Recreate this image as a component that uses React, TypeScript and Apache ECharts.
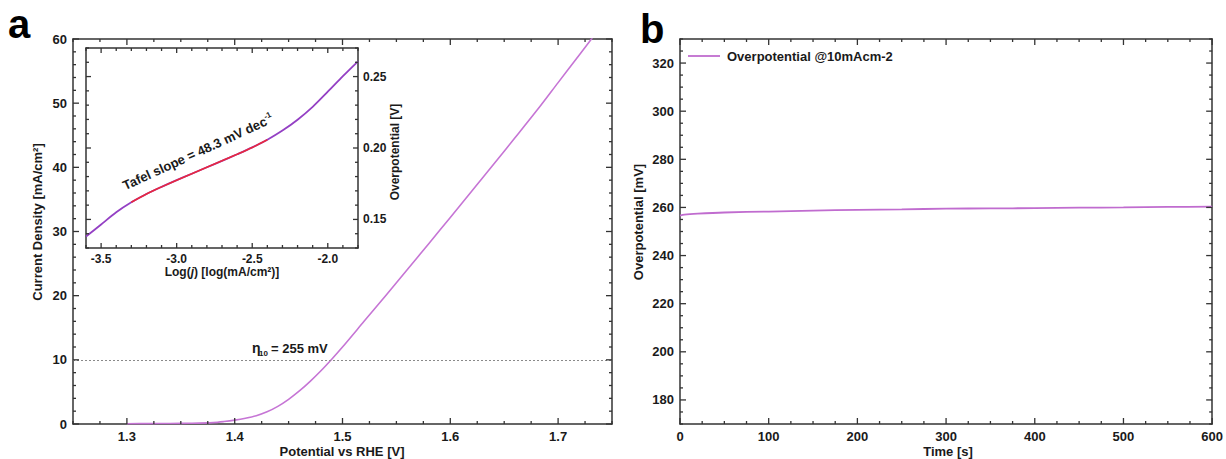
import React, { useEffect, useRef } from "react";
import * as echarts from "echarts";

// Panel a: polarization curve
const polE = [1.30, 1.32, 1.34, 1.36, 1.38, 1.39, 1.40, 1.41, 1.42, 1.43, 1.44, 1.45, 1.46, 1.47, 1.48, 1.49, 1.50, 1.52, 1.54, 1.56, 1.58, 1.60, 1.62, 1.64, 1.66, 1.68, 1.70, 1.72, 1.74];
const polJ = [0.05, 0.06, 0.08, 0.12, 0.22, 0.38, 0.6, 0.9, 1.3, 1.9, 2.75, 3.85, 5.15, 6.65, 8.3, 10.1, 12.0, 16.0, 20.0, 24.05, 28.1, 32.2, 36.3, 40.45, 44.6, 48.8, 53.2, 57.6, 62.0];
const refJ = 10;

// Inset: Tafel plot
const tafelLog = [-3.6, -3.5, -3.4, -3.3, -3.2, -3.1, -3.0, -2.9, -2.8, -2.7, -2.6, -2.5, -2.4, -2.3, -2.2, -2.1, -2.0, -1.9, -1.8];
const tafelV = [0.138, 0.1465, 0.155, 0.162, 0.1678, 0.1728, 0.1775, 0.182, 0.1865, 0.191, 0.1956, 0.2004, 0.2058, 0.2122, 0.2198, 0.2288, 0.2394, 0.2503, 0.2607];
const fitLog = [-3.3, -3.2, -3.1, -3.0, -2.9, -2.8, -2.7, -2.6, -2.5, -2.4];
const fitV = [0.162, 0.1678, 0.1728, 0.1775, 0.182, 0.1865, 0.191, 0.1956, 0.2004, 0.2058];

// Panel b: chronopotentiometry
const timeS = [0, 5, 20, 50, 100, 150, 200, 250, 300, 350, 400, 450, 500, 550, 600];
const overpotMV = [256.6, 257.0, 257.4, 257.9, 258.3, 258.7, 259.0, 259.2, 259.5, 259.6, 259.7, 259.9, 260.0, 260.2, 260.3];

// Axis ranges and tick spacing
const aX = { min: 1.25, max: 1.75, step: 0.025, major: 0.1 };
const aY = { min: 0, max: 60, step: 2, major: 10 };
const iX = { min: -3.6, max: -1.8, step: 0.1, major: 0.5 };
const iY = { min: 0.13, max: 0.27, step: 0.01, major: 0.05 };
const bX = { min: 0, max: 600, step: 25, major: 100 };
const bY = { min: 170, max: 330, step: 5, major: 20 };

const FONT = '"Liberation Sans", Arial, Helvetica, sans-serif';
const AX = "#333";
const TXT = "#1a1a1a";

const zip = (a: number[], b: number[]) => a.map((v, i) => [v, b[i]]);
const isMult = (v: number, m: number) => Math.abs(v / m - Math.round(v / m)) < 1e-6;

function tickValues(r: any) {
  const n = Math.round((r.max - r.min) / r.step);
  const out: number[][] = [];
  for (let i = 0; i <= n; i++) {
    const v = +(r.min + i * r.step).toFixed(6);
    out.push([v, isMult(v, r.major) ? 1 : 0]);
  }
  return out;
}

// Inward ticks on one side of a grid, placed through the axis scales
function tickSeries(xi: number, yi: number, side: string, r: any, other: number, lenMajor: number, lenMinor: number) {
  return {
    type: "custom",
    xAxisIndex: xi,
    yAxisIndex: yi,
    silent: true,
    z: 20,
    clip: false,
    data: tickValues(r),
    renderItem: (params: any, api: any) => {
      const v = api.value(0);
      const len = api.value(1) ? lenMajor : lenMinor;
      let p: number[];
      let q: number[];
      if (side === "bottom" || side === "top") {
        p = api.coord([v, other]);
        q = [p[0], p[1] + (side === "bottom" ? -len : len)];
      } else {
        p = api.coord([other, v]);
        q = [p[0] + (side === "left" ? len : -len), p[1]];
      }
      return {
        type: "line",
        shape: { x1: p[0], y1: p[1], x2: q[0], y2: q[1] },
        style: { stroke: AX, lineWidth: 1.3 },
      };
    },
  };
}

function axis(o: any) {
  return {
    type: "value",
    gridIndex: o.grid,
    position: o.position,
    min: o.min,
    max: o.max,
    interval: o.interval,
    axisLine: { show: true, onZero: false, lineStyle: { color: AX, width: 1.5 } },
    axisTick: { show: false },
    minorTick: { show: false },
    splitLine: { show: false },
    minorSplitLine: { show: false },
    axisLabel: {
      show: !!o.fmt,
      formatter: o.fmt,
      fontFamily: FONT,
      fontWeight: "bold",
      fontSize: o.fs ?? 13,
      color: TXT,
      margin: o.margin ?? 6,
      showMinLabel: true,
      showMaxLabel: true,
    },
  };
}

const fmtA = (v: number) => (isMult(v, 0.1) ? v.toFixed(1) : "");
const fmtInsetX = (v: number) => (isMult(v, 0.5) ? v.toFixed(1) : "");
const fmtInsetY = (v: number) => (isMult(v, 0.05) ? v.toFixed(2) : "");
const fmtBY = (v: number) => (isMult(v, 20) ? String(Math.round(v)) : "");
const fmtInt = (v: number) => String(Math.round(v));

const txt = (x: number, y: number, text: string, opts: any = {}) => ({
  type: "text",
  x,
  y,
  rotation: opts.rotation || 0,
  z: 100,
  style: {
    text,
    fill: opts.fill || TXT,
    font: opts.font || `bold 13px ${FONT}`,
    textAlign: opts.align || "center",
    textVerticalAlign: opts.valign || "middle",
    rich: opts.rich,
  },
});

export default function App() {
  const ref = useRef<HTMLDivElement>(null);
  useEffect(() => {
    if (!ref.current) return;
    const chart = echarts.init(ref.current, undefined, { renderer: "svg" });
    const option: any = {
      animation: false,
      backgroundColor: "#fff",
      textStyle: { fontFamily: FONT },
      grid: [
        { left: 73, top: 39, width: 539, height: 385, containLabel: false },
        { left: 86, top: 48, width: 272, height: 200, containLabel: false, show: true, backgroundColor: "#fff", borderWidth: 0, z: 5 },
        { left: 680, top: 39, width: 536, height: 385, containLabel: false },
      ],
      xAxis: [
        axis({ grid: 0, position: "bottom", min: aX.min, max: aX.max, interval: 0.05, fmt: fmtA }),
        axis({ grid: 0, position: "top", min: aX.min, max: aX.max, interval: 0.05 }),
        { ...axis({ grid: 1, position: "bottom", min: iX.min, max: iX.max, interval: 0.1, fmt: fmtInsetX, fs: 12, margin: 5 }), z: 6 },
        { ...axis({ grid: 1, position: "top", min: iX.min, max: iX.max, interval: 0.1 }), z: 6 },
        axis({ grid: 2, position: "bottom", min: bX.min, max: bX.max, interval: 100, fmt: fmtInt }),
        axis({ grid: 2, position: "top", min: bX.min, max: bX.max, interval: 100 }),
      ],
      yAxis: [
        axis({ grid: 0, position: "left", min: aY.min, max: aY.max, interval: 10, fmt: fmtInt }),
        axis({ grid: 0, position: "right", min: aY.min, max: aY.max, interval: 10 }),
        { ...axis({ grid: 1, position: "left", min: iY.min, max: iY.max, interval: 0.01 }), z: 6 },
        { ...axis({ grid: 1, position: "right", min: iY.min, max: iY.max, interval: 0.01, fmt: fmtInsetY, fs: 12, margin: 5 }), z: 6 },
        axis({ grid: 2, position: "left", min: bY.min, max: bY.max, interval: 10, fmt: fmtBY }),
        axis({ grid: 2, position: "right", min: bY.min, max: bY.max, interval: 10 }),
      ],
      series: [
        {
          type: "line",
          xAxisIndex: 0,
          yAxisIndex: 0,
          data: zip(polE, polJ),
          smooth: 0.3,
          showSymbol: false,
          clip: true,
          lineStyle: { color: "#c675d5", width: 1.6 },
          markLine: {
            silent: true,
            symbol: ["none", "none"],
            label: { show: false },
            lineStyle: { color: "#8a8a8a", type: [2, 2], width: 1 },
            data: [{ yAxis: refJ }],
          },
        },
        {
          type: "line",
          xAxisIndex: 2,
          yAxisIndex: 2,
          data: zip(tafelLog, tafelV),
          smooth: 0.3,
          showSymbol: false,
          z: 7,
          lineStyle: { color: "#9440c4", width: 1.8 },
        },
        {
          type: "line",
          xAxisIndex: 2,
          yAxisIndex: 2,
          data: zip(fitLog, fitV),
          smooth: 0.3,
          showSymbol: false,
          z: 8,
          lineStyle: { color: "#e8283e", width: 1.6 },
        },
        {
          type: "line",
          xAxisIndex: 4,
          yAxisIndex: 4,
          data: zip(timeS, overpotMV),
          smooth: 0.3,
          showSymbol: false,
          lineStyle: { color: "#c06ccf", width: 1.8 },
        },
        // ticks, panel a
        tickSeries(0, 0, "bottom", aX, aY.min, 6, 3),
        tickSeries(0, 0, "top", aX, aY.max, 6, 3),
        tickSeries(0, 0, "left", aY, aX.min, 6, 3),
        tickSeries(0, 0, "right", aY, aX.max, 6, 3),
        // ticks, inset
        tickSeries(2, 2, "bottom", iX, iY.min, 5, 3),
        tickSeries(2, 2, "top", iX, iY.max, 5, 3),
        tickSeries(2, 2, "left", iY, iX.min, 5, 3),
        tickSeries(2, 2, "right", iY, iX.max, 5, 3),
        // ticks, panel b
        tickSeries(4, 4, "bottom", bX, bY.min, 6, 3),
        tickSeries(4, 4, "top", bX, bY.max, 6, 3),
        tickSeries(4, 4, "left", bY, bX.min, 6, 3),
        tickSeries(4, 4, "right", bY, bX.max, 6, 3),
      ],
      graphic: [
        txt(8, 24, "a", { font: `bold 40px ${FONT}`, align: "left", fill: "#000" }),
        txt(640, 29, "b", { font: `bold 40px ${FONT}`, align: "left", fill: "#000" }),
        txt(37, 222, "Current Density [mA/cm²]", { rotation: Math.PI / 2 }),
        txt(342, 451, "Potential vs RHE [V]"),
        txt(638, 222, "Overpotential [mV]", { rotation: Math.PI / 2 }),
        txt(948, 451, "Time [s]"),
        txt(395, 152, "Overpotential [V]", { rotation: Math.PI / 2, font: `bold 12px ${FONT}` }),
        txt(222, 272, "{n|Log(}{i|j}{n|) [log(mA/cm²)]}", {
          rich: {
            n: { fontFamily: FONT, fontWeight: "bold", fontSize: 12, fill: TXT },
            i: { fontFamily: FONT, fontWeight: "bold", fontStyle: "italic", fontSize: 12, fill: TXT },
          },
        }),
        txt(198, 152, "{n|Tafel slope = 48.3 mV dec}{s|-1}", {
          rotation: 0.43,
          rich: {
            n: { fontFamily: FONT, fontWeight: "bold", fontSize: 13, fill: TXT, lineHeight: 16 },
            s: { fontFamily: FONT, fontWeight: "bold", fontSize: 8, fill: TXT, verticalAlign: "top", lineHeight: 16 },
          },
        }),
        txt(252, 348, "η", { align: "left", font: `bold 14px ${FONT}` }),
        txt(259, 353, "10", { align: "left", font: `bold 8px ${FONT}` }),
        txt(271, 348, "= 255 mV", { align: "left" }),
        {
          type: "line",
          z: 100,
          shape: { x1: 688, y1: 56, x2: 720, y2: 56 },
          style: { stroke: "#c06ccf", lineWidth: 1.8 },
        },
        txt(727, 56, "Overpotential @10mAcm-2", { align: "left" }),
      ],
    };
    chart.setOption(option);
    return () => chart.dispose();
  }, []);
  return <div ref={ref} style={{ position: "absolute", left: 0, top: 0, width: 1226, height: 459 }} />;
}
